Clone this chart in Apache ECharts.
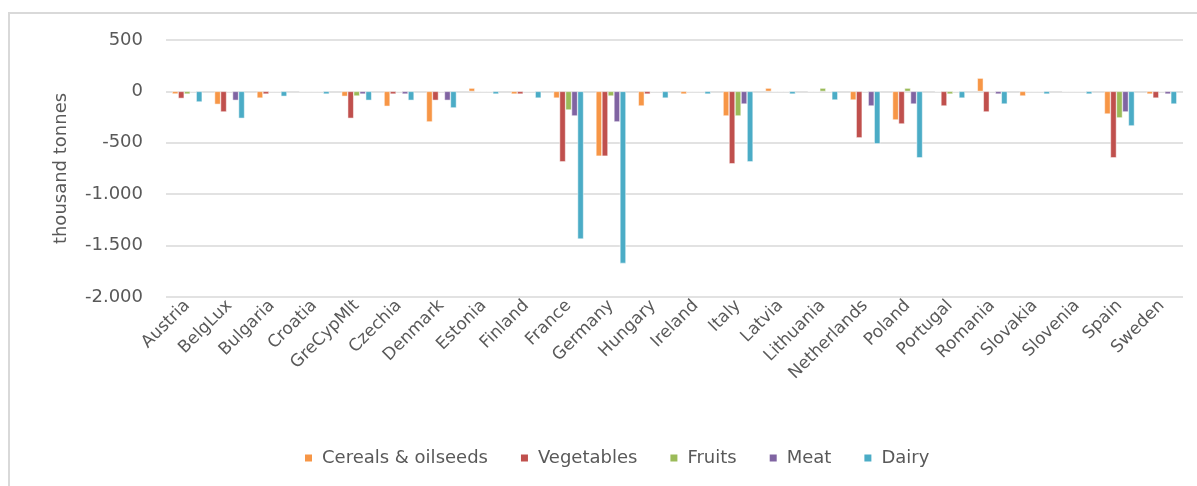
<!DOCTYPE html>
<html>
<head>
<meta charset="utf-8">
<script src="https://cdn.jsdelivr.net/npm/echarts@6/dist/echarts.min.js"></script>
<style>
  html, body { margin: 0; padding: 0; background: #fff; overflow: hidden; }
  #frame { position: absolute; left: 8px; top: 12px; width: 1300px; height: 600px;
           border-left: 2px solid #d9d9d9; border-top: 2px solid #d9d9d9; }
  #chartDiv { position: absolute; left: 0; top: 0; width: 1197px; height: 486px; }
</style>
</head>
<body>
<div id="frame"></div>
<div id="chartDiv"></div>
<script>
// categories
let countries = ['Austria', 'BelgLux', 'Bulgaria', 'Croatia', 'GreCypMlt', 'Czechia',
    'Denmark', 'Estonia', 'Finland', 'France', 'Germany', 'Hungary', 'Ireland', 'Italy',
    'Latvia', 'Lithuania', 'Netherlands', 'Poland', 'Portugal', 'Romania', 'Slovakia',
    'Slovenia', 'Spain', 'Sweden'];

// values, thousand tonnes
let cereals    = [-25, -126, -65, 0, -48, -145, -297, 32, -26, -65, -630, -142, -26, -239, 32, 0, -84, -278, 0, 129, -45, 0, -220, -26];
let vegetables = [-68, -200, -26, 0, -262, -26, -87, 0, -26, -685, -630, -26, 0, -704, 0, 0, -452, -317, -142, -200, 0, 0, -646, -65];
let fruits     = [-26, 0, 0, 0, -45, 0, 0, 0, 0, -181, -45, 0, 0, -239, 0, 32, 0, 32, -26, 0, 0, 0, -258, 0];
let meat       = [0, -87, 0, 0, -26, -26, -87, 0, 0, -239, -297, 0, 0, -123, 0, 0, -142, -123, 0, -26, 0, 0, -200, -26];
let dairy      = [-103, -262, -48, -26, -87, -87, -161, -26, -65, -1437, -1673, -65, -26, -685, -26, -84, -510, -646, -65, -123, -26, -26, -336, -123];

let seriesNames = ['Cereals & oilseeds', 'Vegetables', 'Fruits', 'Meat', 'Dairy'];
let seriesData = [cereals, vegetables, fruits, meat, dairy];
let colors = ['#F79646', '#C0504D', '#9BBB59', '#8064A2', '#4BACC6'];

let font = 'DejaVu Sans';
let textColor = '#595959';

let myChart = echarts.init(document.getElementById('chartDiv'));

let series = [];
for (let i = 0; i < seriesNames.length; i++) {
    series.push({
        name: seriesNames[i],
        type: 'bar',
        data: seriesData[i],
        barWidth: 6,
        barGap: '0%',
        itemStyle: { color: colors[i], borderColor: '#fff', borderWidth: 0.5 }
    });
}

let option = {
    backgroundColor: 'transparent',
    animation: false,
    textStyle: { fontFamily: font },
    grid: { left: 166, right: 14, top: 40, bottom: 189, containLabel: false },
    legend: {
        top: 444,
        left: 298,
        itemWidth: 9,
        itemHeight: 9,
        itemGap: 31,
        icon: 'rect',
        textStyle: { fontSize: 18, color: textColor, fontFamily: font, padding: [0, 0, 0, 4] },
        data: seriesNames
    },
    xAxis: {
        type: 'category',
        data: countries,
        axisLine: { show: false },
        axisTick: { show: false },
        axisLabel: { rotate: 45, interval: 0, fontSize: 17, color: textColor, margin: 6 }
    },
    yAxis: {
        type: 'value',
        min: -2000,
        max: 500,
        interval: 500,
        name: 'thousand tonnes',
        nameLocation: 'middle',
        nameRotate: 90,
        nameGap: 96,
        nameTextStyle: { fontSize: 18, color: textColor },
        axisLine: { show: false },
        axisTick: { show: false },
        splitLine: { lineStyle: { color: '#d9d9d9', width: 1.5 } },
        axisLabel: {
            fontSize: 18,
            color: textColor,
            margin: 23,
            formatter: function (v) {
                let s = Math.abs(v).toString().replace(/\B(?=(\d{3})+(?!\d))/g, '.');
                return (v < 0 ? '-' : '') + s;
            }
        }
    },
    series: series
};
myChart.setOption(option);
</script>
</body>
</html>
